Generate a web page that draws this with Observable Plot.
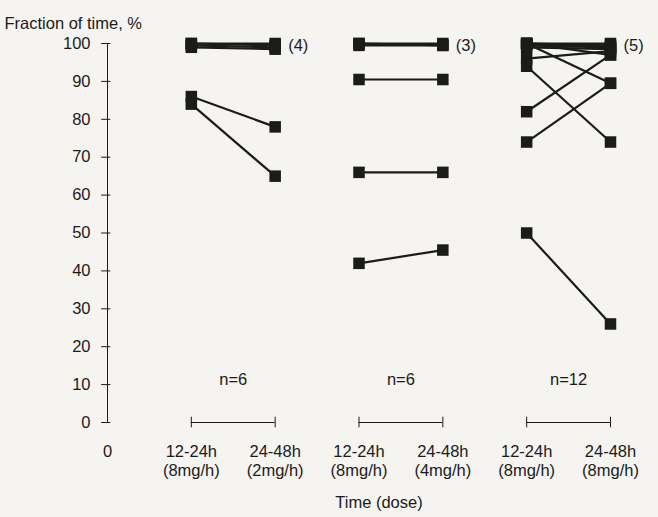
<!DOCTYPE html>
<html><head><meta charset="utf-8">
<script src="https://cdn.jsdelivr.net/npm/d3@7"></script>
<script src="https://cdn.jsdelivr.net/npm/@observablehq/plot@0.6"></script>
<style>html,body{margin:0;padding:0;background:#f5f4f0;} svg{display:block;}</style>
</head><body><div id="chart"></div>
<script>
const groupLabels = ["n=6", "n=6", "n=12"];
const countLabels = ["(4)", "(3)", "(5)"];
const timeLabels = ["0", "12-24h\n(8mg/h)", "24-48h\n(2mg/h)", "12-24h\n(8mg/h)", "24-48h\n(4mg/h)", "12-24h\n(8mg/h)", "24-48h\n(8mg/h)"];
const yTicks = [0, 10, 20, 30, 40, 50, 60, 70, 80, 90, 100];
// group 1: 8mg/h -> 2mg/h
const before1 = [100, 100, 99.5, 99, 86, 84];
const after1  = [100, 99.5, 99, 98.5, 78, 65];
// group 2: 8mg/h -> 4mg/h
const before2 = [100, 100, 99.5, 90.5, 66, 42];
const after2  = [100, 99.5, 99.5, 90.5, 66, 45.5];
// group 3: 8mg/h -> 8mg/h
const before3 = [100, 100, 100, 99.5, 99, 100, 96, 100, 94, 82, 74, 50];
const after3  = [100, 99.5, 99, 99, 98.5, 97, 98, 89.5, 74, 97, 89.5, 26];

const groups = [[before1, after1], [before2, after2], [before3, after3]];
const pairs = groups.flatMap(([b, a], g) => b.map((v, i) => ({g, x1: 2 * g + 1, x2: 2 * g + 2, y1: v, y2: a[i]})));
const points = pairs.flatMap(p => [{x: p.x1, y: p.y1}, {x: p.x2, y: p.y2}]);
const groupInfo = groupLabels.map((n, g) => ({g, n, count: countLabels[g], xa: 2 * g + 1, xb: 2 * g + 2, xm: 2 * g + 1.5}));
const xTicks = timeLabels.map((_, i) => i);

const ink = "#1b1b1b";
const fs = 16.5;
const chart = Plot.plot({
  width: 658, height: 517,
  marginLeft: 107, marginRight: 48, marginTop: 43, marginBottom: 95,
  style: {background: "transparent", fontFamily: "'Liberation Sans', Arial, sans-serif", color: ink},
  x: {domain: [0, 6]},
  y: {domain: [0, 100]},
  marks: [
    Plot.axisY({ticks: yTicks, tickSize: 0, tickPadding: 17, fontSize: fs, label: null}),
    Plot.axisX({ticks: xTicks, tickFormat: i => timeLabels[i], tickSize: 0, tickPadding: 21, fontSize: fs, lineHeight: 1.15, label: null}),
    Plot.ruleX([0], {y1: 0, y2: 100, stroke: ink, strokeWidth: 1}),
    Plot.ruleY(yTicks, {y: d => d, x1: -0.07, x2: 0.04, stroke: ink, strokeWidth: 1}),
    Plot.ruleY(groupInfo, {y: 0, x1: "xa", x2: "xb", stroke: ink, strokeWidth: 1}),
    Plot.ruleX(xTicks.slice(1), {x: d => d, y1: -1.4, y2: 1.4, stroke: ink, strokeWidth: 1}),
    Plot.link(pairs, {x1: "x1", y1: "y1", x2: "x2", y2: "y2", stroke: ink, strokeWidth: 2.2}),
    Plot.dot(points, {x: "x", y: "y", symbol: "square", r: 6.5, fill: ink, stroke: null}),
    Plot.text(groupInfo, {x: "xm", y: 11.3, text: "n", fontSize: fs, fill: ink}),
    Plot.text(groupInfo, {x: "xb", y: 99.5, text: "count", dx: 13, textAnchor: "start", fontSize: fs, fill: ink}),
    Plot.text(["Fraction of time, %"], {frameAnchor: "top-left", text: d => d, dx: -103, dy: -26, textAnchor: "start", fontSize: fs, fill: ink}),
    Plot.text(["Time (dose)"], {frameAnchor: "bottom", text: d => d, dx: 20, dy: 85, fontSize: fs, fill: ink})
  ]
});
document.getElementById("chart").appendChild(chart);
</script>
</body></html>
